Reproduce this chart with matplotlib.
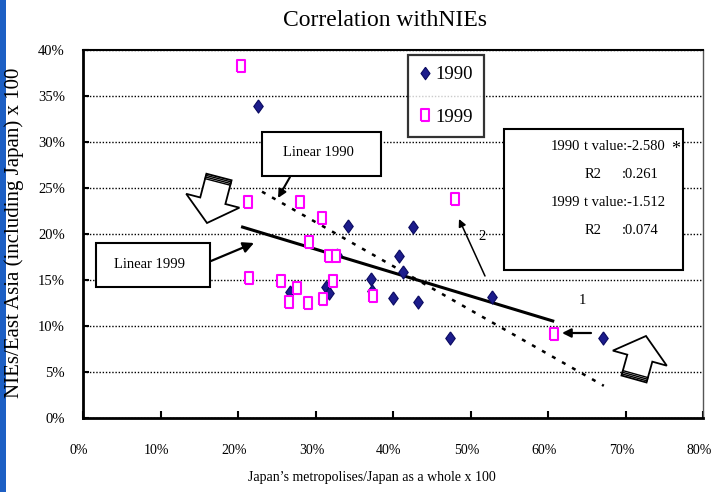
import matplotlib
matplotlib.use('Agg')
import matplotlib.pyplot as plt
from matplotlib.patches import Rectangle, Polygon
from matplotlib.lines import Line2D
from matplotlib.transforms import ScaledTranslation
import numpy as np

# ---------------- data (percent) ----------------
x1990 = [22.6, 34.2, 42.6, 40.8, 41.3, 37.2, 37.3, 40.0, 43.2, 52.8, 47.4, 67.1, 26.7, 31.4, 31.7, 32.8]
y1990 = [33.9, 20.9, 20.8, 17.6, 15.9, 15.1, 13.8, 13.0, 12.6, 13.2, 8.7, 8.7, 13.7, 14.2, 13.6, 17.7]

x1999 = [20.4, 21.3, 28.0, 30.8, 29.2, 31.7, 32.6, 21.4, 25.5, 27.6, 26.6, 29.0, 31.0, 32.3, 37.4, 48.0, 60.8]
y1999 = [38.3, 23.5, 23.5, 21.7, 19.1, 17.6, 17.6, 15.2, 14.9, 14.1, 12.6, 12.5, 12.9, 14.9, 13.3, 23.8, 9.1]

trend1990_x = [23.1, 67.2]
trend1990_y = [24.6, 3.5]
trend1999_x = [20.4, 60.8]
trend1999_y = [20.8, 10.5]

x_ticks = [0, 10, 20, 30, 40, 50, 60, 70, 80]
y_ticks = [0, 5, 10, 15, 20, 25, 30, 35, 40]
x_tick_labels = [f"{v}%" for v in x_ticks]
y_tick_labels = [f"{v}%" for v in y_ticks]

series_labels = ["1990", "1999"]
stats_lines = [("1990", "t value:-2.580"), ("R2", ":0.261"), ("1999", "t value:-1.512"), ("R2", ":0.074")]

# ---------------- figure ----------------
W, H = 714, 492
plt.rcParams['font.family'] = ['Liberation Serif', 'DejaVu Serif']
fig = plt.figure(figsize=(W / 100, H / 100), dpi=100)
fig.patch.set_facecolor('white')


def P(x, y):
    return (x / W, 1 - y / H)


# blue slide strip at left edge
fig.add_artist(Rectangle((0, 0), 6 / W, 1, transform=fig.transFigure,
                         facecolor='#1D5FC4', edgecolor='none'))

ax = fig.add_axes([83 / W, 1 - 418 / H, 620 / W, 368 / H])
ax.set_xlim(0, 80)
ax.set_ylim(0, 40)
ax.set_xticks(x_ticks)
ax.set_xticklabels(x_tick_labels)
ax.set_yticks(y_ticks)
ax.set_yticklabels(y_tick_labels)
ax.tick_params(axis='x', direction='in', length=5, width=1.5, labelsize=10, pad=19)
ax.tick_params(axis='y', direction='in', length=4, width=1.5, labelsize=10.5, pad=13)
shift = ScaledTranslation(-4 / 100, 0, fig.dpi_scale_trans)
for lab in ax.get_xticklabels():
    lab.set_transform(lab.get_transform() + shift)
ax.yaxis.grid(True, linestyle=(0, (1, 1.3)), color='black', lw=1)
ax.set_axisbelow(True)
ax.spines['left'].set_linewidth(2)
ax.spines['bottom'].set_linewidth(2)
ax.spines['top'].set_linewidth(1.5)
ax.spines['right'].set_linewidth(1)
ax.spines['right'].set_color('#555555')

diamond = [(0, 1), (0.72, 0), (0, -1), (-0.72, 0), (0, 1)]
rect_m = [(-0.7, -1), (0.7, -1), (0.7, 1), (-0.7, 1), (-0.7, -1)]

ax.plot(trend1999_x, trend1999_y, color='black', lw=2.2, zorder=3, solid_capstyle='butt')
ax.plot(trend1990_x, trend1990_y, color='black', lw=1.8, linestyle=(0, (1.6, 3)), zorder=3)

ax.plot(x1990, y1990, linestyle='none', marker=diamond, markersize=9.5,
        markerfacecolor='#1C1C8C', markeredgecolor='#0A0A60', markeredgewidth=0.8, zorder=4)
ax.plot(x1999, y1999, linestyle='none', marker=rect_m, markersize=9,
        markerfacecolor='white', markeredgecolor='#FF00FF', markeredgewidth=1.5, zorder=5)

# legend
h1 = Line2D([], [], linestyle='none', marker=diamond, markersize=9,
            markerfacecolor='#1C1C8C', markeredgecolor='#0A0A60', markeredgewidth=0.8)
h2 = Line2D([], [], linestyle='none', marker=rect_m, markersize=9,
            markerfacecolor='white', markeredgecolor='#FF00FF', markeredgewidth=1.5)
leg = ax.legend([h1, h2], series_labels, loc='upper left',
                bbox_to_anchor=P(408, 55), bbox_transform=fig.transFigure,
                borderaxespad=0, fontsize=13.5, frameon=True, fancybox=False,
                handlelength=0.6, handletextpad=0.25, labelspacing=1.35, borderpad=0.6)
leg.get_frame().set_edgecolor('black')
leg.get_frame().set_linewidth(1.6)

# titles and axis labels
fig.text(*P(385, 20), "Correlation withNIEs", ha='center', va='center', fontsize=17)
fig.text(*P(372, 478), "Japan\u2019s metropolises/Japan as a whole x 100", ha='center', va='center', fontsize=10)
fig.text(*P(14, 233), "NIEs/East Asia (including Japan) x 100", ha='center', va='center',
         rotation=90, fontsize=15)


def box(x0, y0, x1, y1, lw=1.5):
    fig.add_artist(Rectangle(P(x0, y1), (x1 - x0) / W, (y1 - y0) / H, transform=fig.transFigure,
                             facecolor='white', edgecolor='black', lw=lw, zorder=6))


def arrow(x0, y0, x1, y1, lw=1.5, ms=12):
    fig.add_artist(matplotlib.patches.FancyArrowPatch(P(x0, y0), P(x1, y1), transform=fig.transFigure,
                                                      arrowstyle='-|>', mutation_scale=ms, color='black',
                                                      lw=lw, shrinkA=0, shrinkB=0, zorder=7))


# Linear 1990 box
box(262, 132, 381, 176)
fig.text(*P(318, 153), "Linear 1990", ha='center', va='center', fontsize=10.5, zorder=8)
arrow(290, 177, 278, 198, lw=1.5, ms=12)

# Linear 1999 box
box(96, 243, 210, 287)
fig.text(*P(150, 264), "Linear 1999", ha='center', va='center', fontsize=10.5, zorder=8)
arrow(211, 261, 254, 243, lw=1.6, ms=16)

# stats box
box(504, 129, 683, 270)
ys = [147, 175, 203, 231]
for (a, b), yy in zip(stats_lines, ys):
    if a == "R2":
        fig.text(*P(585, yy), a, ha='left', va='center', fontsize=10.5, zorder=8)
        fig.text(*P(622, yy), b, ha='left', va='center', fontsize=10.5, zorder=8)
    else:
        fig.text(*P(551, yy), a, ha='left', va='center', fontsize=10.5, zorder=8)
        fig.text(*P(584, yy), b, ha='left', va='center', fontsize=10.5, zorder=8)
fig.text(*P(676, 150), "*", ha='center', va='center', fontsize=13, zorder=8)

# small labels and arrows
fig.text(*P(482, 237), "2", ha='center', va='center', fontsize=10.5)
arrow(485, 276, 459, 219, lw=1.1, ms=11)
fig.text(*P(582, 301), "1", ha='center', va='center', fontsize=10.5)
arrow(591, 333, 562, 333, lw=1.6, ms=13)


def block_arrow(tail, tip, shaft_w, head_w, head_len):
    t = np.array(tail, float)
    p = np.array(tip, float)
    d = p - t
    u = d / np.hypot(*d)
    n = np.array([-u[1], u[0]])
    base = p - u * head_len
    pts = [t + n * shaft_w / 2, base + n * shaft_w / 2, base + n * head_w / 2, p,
           base - n * head_w / 2, base - n * shaft_w / 2, t - n * shaft_w / 2]
    fig.add_artist(Polygon([P(*q) for q in pts], closed=True, transform=fig.transFigure,
                           facecolor='white', edgecolor='black', lw=1.3, zorder=6))
    for k in range(1, 4):
        off = u * (k * 1.7)
        a = t + off + n * shaft_w / 2
        b = t + off - n * shaft_w / 2
        fig.add_artist(Line2D([P(*a)[0], P(*b)[0]], [P(*a)[1], P(*b)[1]], transform=fig.transFigure,
                              color='black', lw=1.0, zorder=7))


block_arrow((219, 177), (207, 223), 26, 55, 23)
block_arrow((634, 379), (646, 336), 26, 56, 23)

fig.savefig('out.png', dpi=100)
